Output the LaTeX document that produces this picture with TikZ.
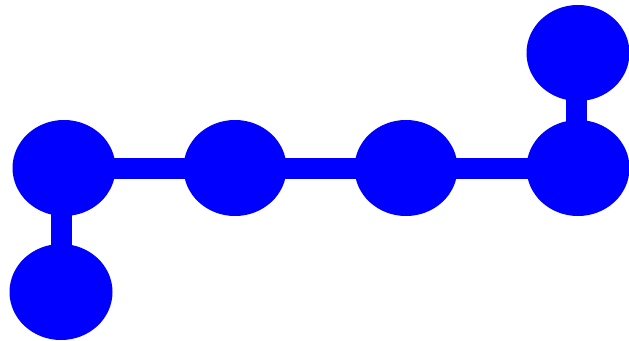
\documentclass[tikz,border=0pt]{standalone}
\usetikzlibrary{shapes.geometric,backgrounds}
\definecolor{pureblue}{RGB}{0,0,255}
\begin{document}
\begin{tikzpicture}[x=1pt,y=-1pt,
  dot/.style={ellipse,fill=pureblue,draw=none,minimum width=103pt,minimum height=96pt,inner sep=0pt},
  bar/.style={line width=21pt,draw=pureblue}]
\useasboundingbox (0,0) rectangle (629,340);
\node[dot] (a) at (64,168) {};
\node[dot] (b) at (235,168) {};
\node[dot] (c) at (406,168) {};
\node[dot] (d) at (578,168) {};
\node[dot] (t) at (578,53) {};
\node[dot] (l) at (61,292) {};
\begin{scope}[on background layer]
\draw[bar] (a.center) -- (b.center);
\draw[bar] (b.center) -- (c.center);
\draw[bar] (c.center) -- (d.center);
\draw[bar] ([xshift=-2pt]t.center) -- ([xshift=-2pt]d.center);
\draw[bar] (l.center) -- (l.center |- a.center);
\end{scope}
\end{tikzpicture}
\end{document}
